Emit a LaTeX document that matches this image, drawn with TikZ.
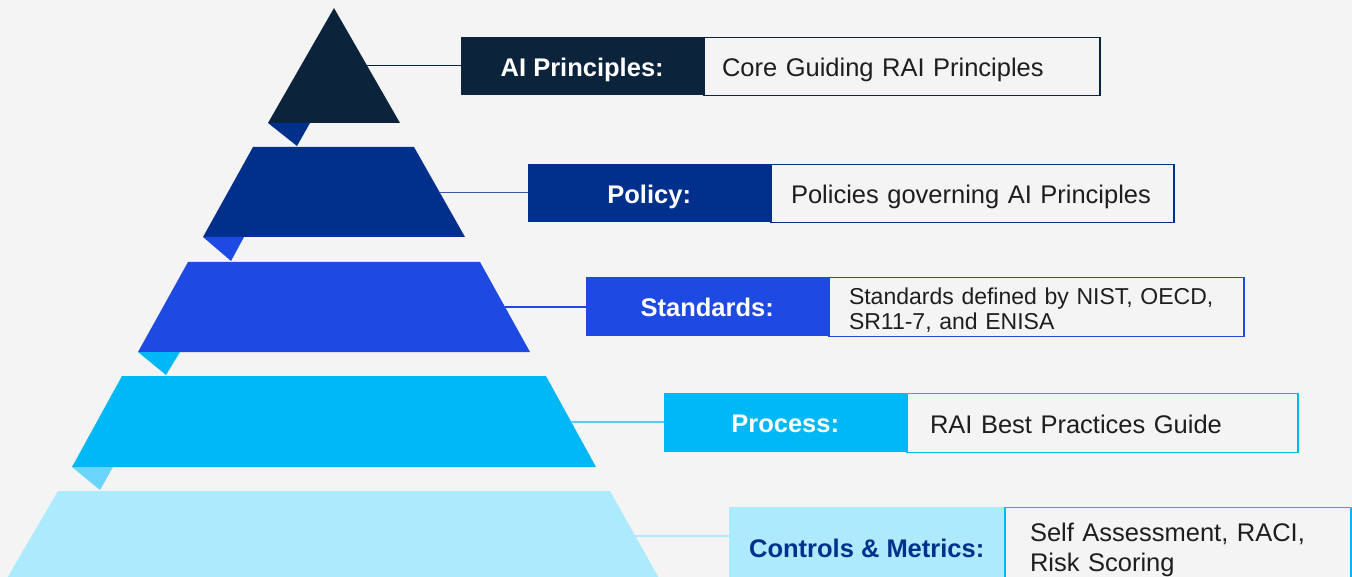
\documentclass[tikz,border=0pt]{standalone}
\usepackage{fontspec}
\setmainfont{Liberation Sans}
\definecolor{bg}{HTML}{F4F4F4}
\definecolor{cone}{HTML}{0C233C}
\definecolor{ctwo}{HTML}{00308C}
\definecolor{cthree}{HTML}{1E49E2}
\definecolor{cfour}{HTML}{00B8F5}
\definecolor{cfive}{HTML}{ACEAFE}
\definecolor{foldfour}{HTML}{6AD4FA}
\definecolor{linefour}{HTML}{5BCBF5}
\definecolor{txt}{HTML}{1E1E1E}
\begin{document}
\begin{tikzpicture}[x=1pt,y=-1pt,
  lab/.style={anchor=north west, minimum height=58pt, inner sep=0pt,
    text height=20.4pt, text depth=0pt,
    font=\fontsize{25.5pt}{30pt}\selectfont\bfseries, text=white},
  desc/.style={anchor=north west, draw, line width=1.2pt, fill=bg,
    minimum height=58pt, inner xsep=20pt, inner ysep=0pt, align=left,
    text height=20.4pt, text depth=0pt,
    text=txt, font=\fontsize{25.5pt}{30pt}\selectfont},
  link/.style={line width=1.4pt}]
\useasboundingbox (0,0) rectangle (1352,577);
\fill[bg] (0,0) rectangle (1352,577);
\begin{scope}
\clip (0,0) rectangle (1352,577);

% pyramid layers
\fill[cone]   (334,8) -- (400,123) -- (268,123) -- cycle;
\fill[ctwo]   (253,147) -- (414,147) -- (465,237) -- (203,237) -- cycle;
\fill[cthree] (188,262) -- (480,262) -- (530,352) -- (138,352) -- cycle;
\fill[cfour]  (122,376) -- (546,376) -- (596,467) -- (72,467) -- cycle;
\fill[cfive]  (58,491) -- (610,491) -- (660,580) -- (6,580) -- cycle;

% folded corners under each layer
\fill[ctwo]     (268,123) -- (310,123) -- (297,146) -- cycle;
\fill[cthree]   (203,237) -- (244,237) -- (231,261) -- cycle;
\fill[cfour]    (138,352) -- (180,352) -- (166,375) -- cycle;
\fill[foldfour] (72,467) -- (113,467) -- (100,490) -- cycle;

% connector start points on the layer edges
\coordinate (e1) at (367,65.5);
\coordinate (e2) at (439,192.5);
\coordinate (e3) at (505,307);
\coordinate (e4) at (571,422);
\coordinate (e5) at (635,536);

% label boxes and descriptions
\node[lab, fill=cone, minimum width=242pt] (L1) at (461,37) {AI Principles:};
\node[desc, draw=cone, text width=360pt, inner xsep=18pt] (T1) at (L1.north east) {Core Guiding RAI Principles};

\node[lab, fill=ctwo, minimum width=242pt] (L2) at (528,164) {Policy:};
\node[desc, draw=ctwo, text width=363pt] (T2) at (L2.north east) {Policies governing AI Principles};

\node[lab, fill=cthree, minimum width=242pt, minimum height=59pt] (L3) at (586,277) {Standards:};
\node[desc, draw=cthree, text width=375pt, minimum height=59pt,
  text height=20pt, text depth=25pt,
  font=\fontsize{23pt}{25pt}\selectfont] (T3) at (L3.north east)
  {Standards defined by NIST, OECD,\\SR11-7, and ENISA};

\node[lab, fill=cfour, minimum width=242pt, minimum height=59pt] (L4) at (664,393) {Process:};
\node[desc, draw=cfour, text width=345pt, inner xsep=23pt, minimum height=59pt] (T4) at (L4.north east) {RAI Best Practices Guide};

\node[lab, fill=cfive, text=ctwo, minimum width=275pt, minimum height=80pt] (L5) at (729,507) {Controls \& Metrics:};
\node[desc, draw=cfour, text width=296pt, inner xsep=25pt, minimum height=80pt,
  text height=22pt, text depth=34pt] (T5) at (L5.north east)
  {Self Assessment, RACI,\\Risk Scoring};

% connectors
\draw[link, cone]     (e1) -- (e1 -| L1.west);
\draw[link, ctwo!80]  (e2) -- (e2 -| L2.west);
\draw[link, cthree]   (e3) -- (e3 -| L3.west);
\draw[link, linefour] (e4) -- (e4 -| L4.west);
\draw[link, cfive]    (e5) -- (e5 -| L5.west);
\end{scope}
\end{tikzpicture}
\end{document}
